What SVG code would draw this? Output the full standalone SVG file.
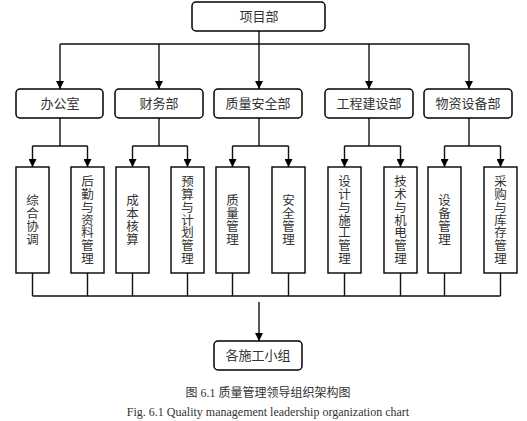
<svg xmlns="http://www.w3.org/2000/svg" width="527" height="421" viewBox="0 0 527 421">
<style>
.box{fill:#fff;stroke:#000;stroke-width:1.5}
.col{fill:#fff;stroke:#000;stroke-width:1.4}
.t{font-family:"Liberation Serif","Noto Sans CJK SC",serif;font-size:13px;fill:#333;text-anchor:middle}
.v{font-family:"Noto Sans CJK SC",sans-serif;font-size:12.5px;fill:#333;text-anchor:middle;writing-mode:vertical-rl;letter-spacing:0.3px}
.c{font-family:"Liberation Serif","Noto Sans CJK SC",serif;font-size:12px;fill:#333;text-anchor:middle}
.ln{fill:none;stroke:#111;stroke-width:1.4}
</style>
<defs>
<marker id="ah" markerUnits="userSpaceOnUse" markerWidth="8" markerHeight="8" refX="8" refY="4" orient="auto">
<path d="M0,0 L8,4 L0,8 z" fill="#000"/>
</marker>
</defs>
<g id="connectors">
<path class="ln" d="M259,31 V44 M60,44 H469"/>
<path class="ln" marker-end="url(#ah)" d="M60,44 V89"/>
<path class="ln" marker-end="url(#ah)" d="M159,44 V89"/>
<path class="ln" marker-end="url(#ah)" d="M259,44 V89"/>
<path class="ln" marker-end="url(#ah)" d="M369,44 V89"/>
<path class="ln" marker-end="url(#ah)" d="M469,44 V89"/>
<path class="ln" d="M60,118 V146 M32.5,146 H87.5 M159,118 V146 M132.5,146 H187.5 M259,118 V146 M232.5,146 H288.5 M369,118 V146 M344.5,146 H400.5 M469,118 V146 M444.5,146 H500.5"/>
<path class="ln" marker-end="url(#ah)" d="M32.5,146 V167"/>
<path class="ln" marker-end="url(#ah)" d="M87.5,146 V167"/>
<path class="ln" marker-end="url(#ah)" d="M132.5,146 V167"/>
<path class="ln" marker-end="url(#ah)" d="M187.5,146 V167"/>
<path class="ln" marker-end="url(#ah)" d="M232.5,146 V167"/>
<path class="ln" marker-end="url(#ah)" d="M288.5,146 V167"/>
<path class="ln" marker-end="url(#ah)" d="M344.5,146 V167"/>
<path class="ln" marker-end="url(#ah)" d="M400.5,146 V167"/>
<path class="ln" marker-end="url(#ah)" d="M444.5,146 V167"/>
<path class="ln" marker-end="url(#ah)" d="M500.5,146 V167"/>
<path class="ln" d="M32.5,273 V296 M87.5,273 V296 M132.5,273 V296 M187.5,273 V296 M232.5,273 V296 M288.5,273 V296 M344.5,273 V296 M400.5,273 V296 M444.5,273 V296 M500.5,273 V296 M32.5,296 H500.5"/>
<path class="ln" marker-end="url(#ah)" d="M259,302 V341"/>
</g>
<g id="n-top"><rect class="box" x="192" y="2" width="133" height="29" rx="4"/><text class="t" x="259" y="21">项目部</text></g>
<g id="n-bgs"><rect class="box" x="16" y="89" width="87" height="29" rx="4"/><text class="t" x="60" y="108">办公室</text></g>
<g id="n-cwb"><rect class="box" x="115" y="89" width="88" height="29" rx="4"/><text class="t" x="159" y="108">财务部</text></g>
<g id="n-zlaq"><rect class="box" x="214" y="89" width="88" height="29" rx="4"/><text class="t" x="258" y="108">质量安全部</text></g>
<g id="n-gcjs"><rect class="box" x="325" y="89" width="88" height="29" rx="4"/><text class="t" x="369" y="108">工程建设部</text></g>
<g id="n-wzsb"><rect class="box" x="424" y="89" width="88" height="29" rx="4"/><text class="t" x="468" y="108">物资设备部</text></g>
<g id="n-zhxt"><rect class="col" x="16" y="167" width="33" height="106"/><text class="v" x="32.5" y="220">综合协调</text></g>
<g id="n-hq"><rect class="col" x="71" y="167" width="33" height="106"/><text class="v" x="87.5" y="220">后勤与资料管理</text></g>
<g id="n-cbhs"><rect class="col" x="116" y="167" width="33" height="106"/><text class="v" x="132.5" y="220">成本核算</text></g>
<g id="n-ys"><rect class="col" x="171" y="167" width="33" height="106"/><text class="v" x="187.5" y="220">预算与计划管理</text></g>
<g id="n-zlgl"><rect class="col" x="216" y="167" width="33" height="106"/><text class="v" x="232.5" y="220">质量管理</text></g>
<g id="n-aqgl"><rect class="col" x="272" y="167" width="33" height="106"/><text class="v" x="288.5" y="220">安全管理</text></g>
<g id="n-sj"><rect class="col" x="328" y="167" width="33" height="106"/><text class="v" x="344.5" y="220">设计与施工管理</text></g>
<g id="n-js"><rect class="col" x="384" y="167" width="33" height="106"/><text class="v" x="400.5" y="220">技术与机电管理</text></g>
<g id="n-sbgl"><rect class="col" x="428" y="167" width="33" height="106"/><text class="v" x="444.5" y="220">设备管理</text></g>
<g id="n-cg"><rect class="col" x="484" y="167" width="33" height="106"/><text class="v" x="500.5" y="220">采购与库存管理</text></g>
<g id="n-bottom"><rect class="box" x="214" y="341" width="88" height="29" rx="4"/><text class="t" x="258" y="360">各施工小组</text></g>
<text class="c" x="268" y="397">图 6.1  质量管理领导组织架构图</text>
<text class="c" x="268" y="416">Fig. 6.1 Quality management leadership organization chart</text>
</svg>
